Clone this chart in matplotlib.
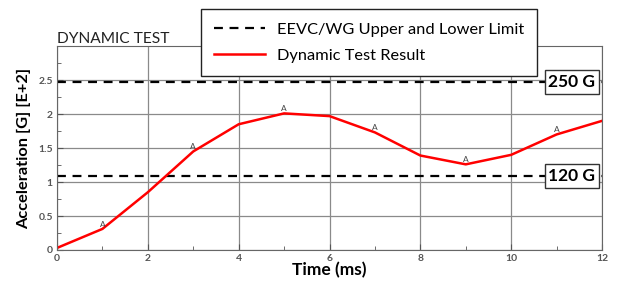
import matplotlib
matplotlib.use('Agg')
import matplotlib.pyplot as plt
from matplotlib.ticker import MultipleLocator

plt.rcParams['font.family'] = ['Lato', 'DejaVu Sans']

# Data
time_ms = [0, 1, 2, 3, 4, 5, 6, 7, 8, 9, 10, 11, 12]
accel = [0.03, 0.31, 0.85, 1.45, 1.85, 2.01, 1.97, 1.73, 1.39, 1.26, 1.40, 1.70, 1.90]
marker_x = [1, 3, 5, 7, 9, 11]
upper_limit = 2.47
lower_limit = 1.09
limit_labels = ['250 G', '120 G']

fig = plt.figure(figsize=(6.17, 2.90), dpi=100)
ax = fig.add_axes([0.0924, 0.138, 0.8833, 0.703])

ax.set_xlim(0, 12)
ax.set_ylim(0, 3.0)
ax.xaxis.set_major_locator(MultipleLocator(2))
ax.xaxis.set_minor_locator(MultipleLocator(1))
ax.yaxis.set_minor_locator(MultipleLocator(0.25))
ax.set_yticks([0, 0.5, 1, 1.5, 2, 2.5])
ax.set_yticklabels(['0', '0.5', '1', '1.5', '2', '2.5'])
ax.tick_params(which='both', direction='in', colors='#555555', labelsize=7.5)
ax.tick_params(which='major', length=4, pad=3)
ax.tick_params(which='minor', length=3)
for lab in ax.get_xticklabels() + ax.get_yticklabels():
    lab.set_fontweight('bold')
ax.grid(True, color='#8a8a8a', linewidth=0.9)
for s in ax.spines.values():
    s.set_color('#666666')

l1 = ax.axhline(upper_limit, color='black', linestyle='--', linewidth=1.6, dashes=(4, 3))
ax.axhline(lower_limit, color='black', linestyle='--', linewidth=1.6, dashes=(4, 3))
l2, = ax.plot(time_ms, accel, color='red', linewidth=1.8)

for mx in marker_x:
    ax.text(mx, accel[time_ms.index(mx)] + 0.02, 'A', fontsize=6, color='#444444',
            ha='center', va='bottom')

for yv, lab in zip([upper_limit, lower_limit], limit_labels):
    ax.text(0.988, yv, lab, transform=ax.get_yaxis_transform(), ha='right', va='center',
            fontsize=12.5, fontweight='bold',
            bbox=dict(boxstyle='square,pad=0.22', facecolor='white', edgecolor='#333333', linewidth=1))

ax.set_title('DYNAMIC TEST', loc='left', fontsize=11.2, pad=1, color='#222222')
ax.set_xlabel('Time (ms)', fontsize=12.5, fontweight='bold', labelpad=-1)
ax.set_ylabel('Acceleration [G] [E+2]', fontsize=11.8, fontweight='bold', labelpad=5)

fig.legend([l1, l2], ['EEVC/WG Upper and Lower Limit', 'Dynamic Test Result'],
           loc='upper left', bbox_to_anchor=(0.326, 0.968), fontsize=11.8,
           frameon=True, fancybox=False, edgecolor='#222222', framealpha=1,
           handlelength=3.1, borderpad=0.8, labelspacing=0.7, handletextpad=0.7,
           borderaxespad=0)

fig.savefig('out.png', dpi=100)
